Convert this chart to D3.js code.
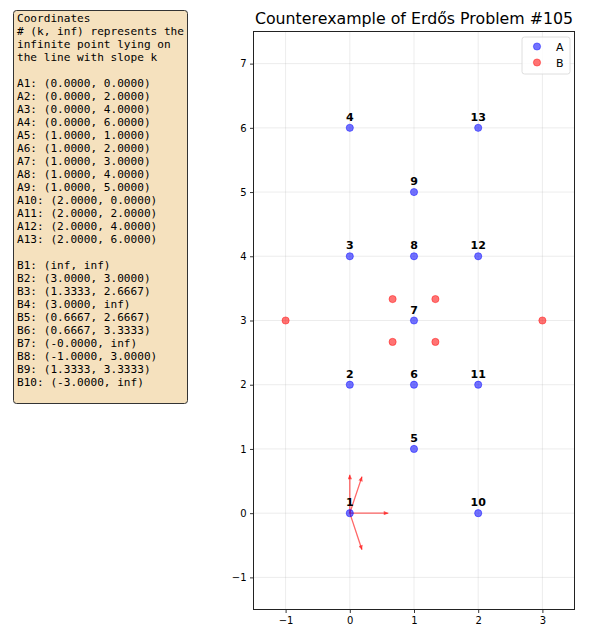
<!DOCTYPE html>
<html>
<head>
<meta charset="utf-8">
<script src="https://cdn.jsdelivr.net/npm/d3@7"></script>
<style>
  body { margin: 0; background: #fff; }
  svg { display: block; font-family: 'DejaVu Sans', sans-serif; }
</style>
</head>
<body>
<div id="chart"></div>
<script>
// A points (finite)
const aNames = ['1','2','3','4','5','6','7','8','9','10','11','12','13'];
const aX = [0, 0, 0, 0, 1, 1, 1, 1, 1, 2, 2, 2, 2];
const aY = [0, 2, 4, 6, 1, 2, 3, 4, 5, 0, 2, 4, 6];

// B points: (k, inf) = point at infinity on lines of slope k
const bNames = ['1','2','3','4','5','6','7','8','9','10'];
const bX = [Infinity, 3, 1.3333, 3, 0.6667, 0.6667, -0, -1, 1.3333, -3];
const bY = [Infinity, 3, 2.6667, Infinity, 2.6667, 3.3333, Infinity, 3, 3.3333, Infinity];

const xTicks = [-1, 0, 1, 2, 3];
const yTicks = [-1, 0, 1, 2, 3, 4, 5, 6, 7];
const titleText = 'Counterexample of Erdős Problem #105';
const noteHeader = [
  'Coordinates',
  '# (k, inf) represents the',
  'infinite point lying on',
  'the line with slope k'
];

const blue = '#0000ff';
const red  = '#ff0000';

const W = 600, H = 640;
const margin = { top: 31.5, right: 25.5, bottom: 30.5, left: 253.5 };

const svg = d3.select('#chart').append('svg').attr('width', W).attr('height', H);

const x = d3.scaleLinear().domain([-1.5, 3.5]).range([margin.left, W - margin.right]);
const y = d3.scaleLinear().domain([-1.5, 7.5]).range([H - margin.bottom, margin.top]);

// grid
svg.append('g').selectAll('line').data(xTicks).join('line')
  .attr('x1', d => x(d)).attr('x2', d => x(d))
  .attr('y1', y(-1.5)).attr('y2', y(7.5))
  .attr('stroke', '#b0b0b0').attr('stroke-opacity', 0.3).attr('stroke-width', 0.8);
svg.append('g').selectAll('line').data(yTicks).join('line')
  .attr('y1', d => y(d)).attr('y2', d => y(d))
  .attr('x1', x(-1.5)).attr('x2', x(3.5))
  .attr('stroke', '#b0b0b0').attr('stroke-opacity', 0.3).attr('stroke-width', 0.8);

// axes
const minus = d => d < 0 ? '\u2212' + Math.abs(d) : d;
const xAxis = svg.append('g').attr('transform', `translate(0,${y(-1.5)})`)
  .call(d3.axisBottom(x).tickValues(xTicks).tickSize(3.5).tickPadding(3.5).tickFormat(minus));
const yAxis = svg.append('g').attr('transform', `translate(${x(-1.5)},0)`)
  .call(d3.axisLeft(y).tickValues(yTicks).tickSize(3.5).tickPadding(3.5).tickFormat(minus));
[xAxis, yAxis].forEach(a => {
  a.select('.domain').remove();
  a.selectAll('line').attr('stroke', '#000').attr('stroke-width', 0.8);
  a.selectAll('text').style('font-family', 'DejaVu Sans').style('font-size', '10px').attr('fill', '#000');
});

// frame
svg.append('rect')
  .attr('x', x(-1.5)).attr('y', y(7.5))
  .attr('width', x(3.5) - x(-1.5)).attr('height', y(-1.5) - y(7.5))
  .attr('fill', 'none').attr('stroke', '#222').attr('stroke-width', 1);

// arrows for points at infinity
svg.append('defs').append('marker')
  .attr('id', 'head').attr('viewBox', '0 0 10 10')
  .attr('refX', 10).attr('refY', 5)
  .attr('markerWidth', 4.5).attr('markerHeight', 3.5).attr('markerUnits', 'strokeWidth')
  .attr('orient', 'auto')
  .append('path').attr('d', 'M0,0 L10,5 L0,10 z').attr('fill', red).attr('fill-opacity', 0.6);

const arrowLen = 0.6;
const infX = bX.filter((d, i) => bY[i] === Infinity);
svg.append('g').selectAll('line').data(infX).join('line')
  .attr('x1', x(0)).attr('y1', y(0))
  .attr('x2', k => {
    if (!isFinite(k)) return x(0);
    return x(arrowLen / Math.sqrt(1 + k * k));
  })
  .attr('y2', k => {
    if (!isFinite(k)) return y(arrowLen);
    return y(arrowLen * k / Math.sqrt(1 + k * k));
  })
  .attr('stroke', red).attr('stroke-opacity', 0.6).attr('stroke-width', 1.3)
  .attr('marker-end', 'url(#head)');

// B finite points
const bFinite = bX.map((v, i) => ({ x: v, y: bY[i] })).filter(d => isFinite(d.x) && isFinite(d.y));
svg.append('g').selectAll('circle').data(bFinite).join('circle')
  .attr('cx', d => x(d.x)).attr('cy', d => y(d.y)).attr('r', 3.6)
  .attr('fill', red).attr('fill-opacity', 0.55)
  .attr('stroke', red).attr('stroke-opacity', 0.55).attr('stroke-width', 0.8);

// A points
const aPts = aX.map((v, i) => ({ x: v, y: aY[i], name: aNames[i] }));
svg.append('g').selectAll('circle').data(aPts).join('circle')
  .attr('cx', d => x(d.x)).attr('cy', d => y(d.y)).attr('r', 3.6)
  .attr('fill', blue).attr('fill-opacity', 0.55)
  .attr('stroke', blue).attr('stroke-opacity', 0.55).attr('stroke-width', 0.8);
svg.append('g').selectAll('text').data(aPts).join('text')
  .attr('x', d => x(d.x)).attr('y', d => y(d.y) - 7)
  .attr('text-anchor', 'middle')
  .style('font-size', '11px').style('font-weight', 'bold')
  .text(d => d.name);

// title
svg.append('text')
  .attr('x', (x(-1.5) + x(3.5)) / 2).attr('y', 24)
  .attr('text-anchor', 'middle')
  .style('font-size', '15.8px')
  .text(titleText);

// legend
const lg = svg.append('g');
lg.append('rect').attr('x', 522).attr('y', 37).attr('width', 48).attr('height', 37)
  .attr('rx', 2.5).attr('fill', '#fff').attr('fill-opacity', 0.8)
  .attr('stroke', '#d6d6d6').attr('stroke-width', 0.8);
[['A', blue], ['B', red]].forEach(([name, c], i) => {
  lg.append('circle').attr('cx', 537).attr('cy', 46.5 + i * 16).attr('r', 3.6)
    .attr('fill', c).attr('fill-opacity', 0.55).attr('stroke', c).attr('stroke-opacity', 0.55).attr('stroke-width', 0.8);
  lg.append('text').attr('x', 556).attr('y', 50.5 + i * 16)
    .style('font-size', '11px').text(name);
});

// coordinates box
function fmt(v) {
  if (v === Infinity) return 'inf';
  if (Object.is(v, -0)) return '-0.0000';
  return v.toFixed(4);
}
const lines = noteHeader.concat(
  [''],
  aPts.map(d => `A${d.name}: (${fmt(d.x)}, ${fmt(d.y)})`),
  [''],
  bNames.map((n, i) => `B${n}: (${fmt(bX[i])}, ${fmt(bY[i])})`)
);
svg.append('rect').attr('x', 13.5).attr('y', 10.5).attr('width', 174).attr('height', 393)
  .attr('rx', 3).attr('fill', '#f5e1be').attr('stroke', '#333').attr('stroke-width', 1);
svg.append('g').selectAll('text').data(lines).join('text')
  .attr('x', 17).attr('y', (d, i) => 21.7 + i * 13)
  .style('font-family', 'DejaVu Sans Mono').style('font-size', '11.1px')
  .attr('xml:space', 'preserve')
  .text(d => d);
</script>
</body>
</html>
